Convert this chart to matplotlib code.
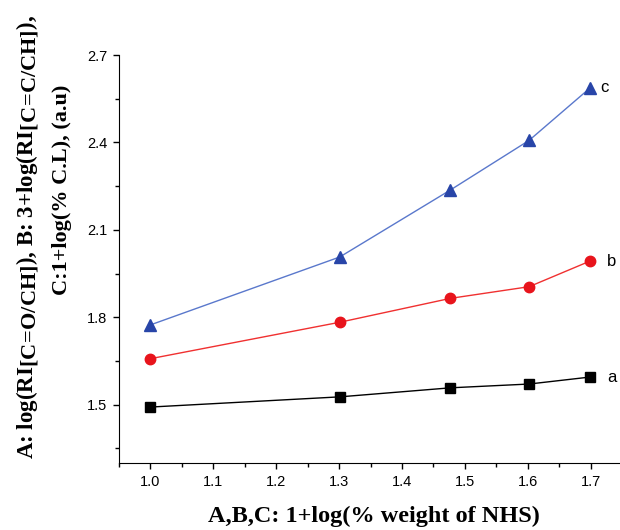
import matplotlib.pyplot as plt
import matplotlib._mathtext as mt
from matplotlib.ticker import MultipleLocator

# subscripts in the original are about full size
mt.SHRINK_FACTOR = 0.97

plt.rcParams['mathtext.fontset'] = 'custom'
plt.rcParams['mathtext.rm'] = 'Liberation Serif:bold'
plt.rcParams['mathtext.it'] = 'Liberation Serif:bold'
plt.rcParams['mathtext.bf'] = 'Liberation Serif:bold'

# 1 + log(% weight of NHS)
x = [1.0, 1.301, 1.477, 1.602, 1.699]

a_vals = [1.492, 1.527, 1.558, 1.571, 1.595]
b_vals = [1.658, 1.783, 1.865, 1.905, 1.993]
c_vals = [1.774, 2.007, 2.237, 2.407, 2.587]

series_names = ['a', 'b', 'c']
label_offsets = [12, 12, 7]

fig = plt.figure(figsize=(6.2, 5.3), dpi=100)
ax = fig.add_axes([0.192, 0.1264, 0.8115, 0.7698])

ax.plot(x, a_vals, color='black', lw=1, marker='s', ms=7, mfc='black', mec='black')
ax.plot(x, b_vals, color='#f03030', lw=1, marker='o', ms=7.5, mfc='#e8141c', mec='#e8141c')
ax.plot(x, c_vals, color='#5a78cc', lw=1, marker='^', ms=9, mfc='#2845a8', mec='#2845a8')

for name, vals, off in zip(series_names, [a_vals, b_vals, c_vals], label_offsets):
    ax.annotate(name, (x[-1], vals[-1]), xytext=(off, 0), textcoords='offset points',
                fontsize=12, family='Liberation Sans', va='center', ha='left',
                annotation_clip=False)

ax.set_xlim(0.95, 1.75)
ax.set_ylim(1.3, 2.7)
ax.xaxis.set_major_locator(MultipleLocator(0.1))
ax.xaxis.set_minor_locator(MultipleLocator(0.05))
ax.set_yticks([1.5, 1.8, 2.1, 2.4, 2.7])
ax.yaxis.set_minor_locator(MultipleLocator(0.15))
ax.tick_params(which='major', direction='out', length=4.5, width=1, labelsize=10.5, pad=4)
ax.tick_params(which='minor', direction='out', length=3, width=1)
for lab in ax.get_xticklabels() + ax.get_yticklabels():
    lab.set_family('Liberation Sans')

ax.spines['top'].set_visible(False)
ax.spines['right'].set_visible(False)

fig.text(0.603, 0.026, 'A,B,C: 1+log(% weight of NHS)', fontsize=17.5,
         family='Liberation Serif', fontweight='bold', ha='center', va='center')

fig.text(0.0435, 0.553,
         r'A: log(RI$_{\mathrm{[C\!=\!O/CH]}}$), B: 3+log(RI$_{\mathrm{[C\!=\!C/CH]}}$),',
         rotation=90, ha='center', va='center', fontsize=16.5,
         family='Liberation Serif', fontweight='bold')
fig.text(0.100, 0.641, 'C:1+log(% C.L), (a.u)',
         rotation=90, ha='center', va='center', fontsize=16,
         family='Liberation Serif', fontweight='bold')

fig.savefig('out.png', dpi=100)
